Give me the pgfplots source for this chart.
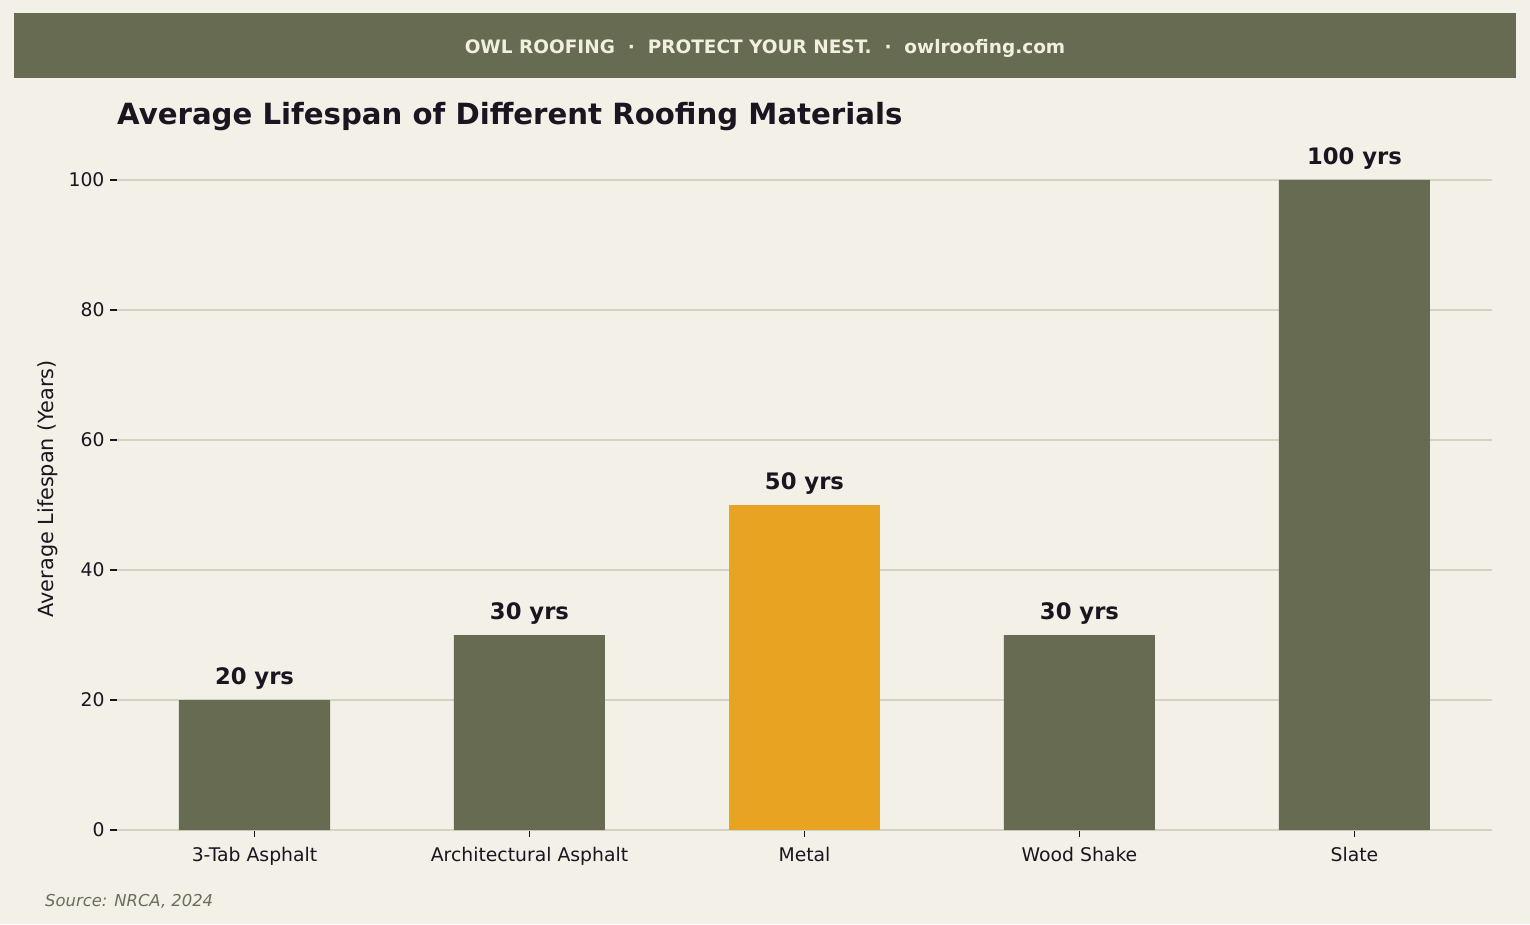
\documentclass[border=0pt]{standalone}
\usepackage{pgfplots}
\pgfplotsset{compat=1.18}
\usepackage{fontspec}
\setmainfont{DejaVu Sans}
\definecolor{bgcream}{HTML}{F2F0E7}
\definecolor{olive}{HTML}{666B52}
\definecolor{amber}{HTML}{E8A323}
\definecolor{ink}{HTML}{1A1520}
\definecolor{gridc}{HTML}{D5D2C3}
\definecolor{bannertext}{HTML}{F2EFE0}
\definecolor{srcgray}{HTML}{6B6E5A}
\begin{document}
\begin{tikzpicture}[x=1pt,y=1pt]
% page background and header banner
\fill[bgcream] (0,0) rectangle (1530,924);
\fill[olive] (14,846) rectangle (1516,911);
\node[text=bannertext,font=\fontsize{18.5}{22}\selectfont\bfseries] at (765,876)
  {OWL ROOFING \ · \ PROTECT YOUR NEST. \ · \ owlroofing.com};
% chart title
\node[anchor=base west,text=ink,font=\fontsize{29.2}{34}\selectfont\bfseries,inner sep=0pt]
  at (117,799) {Average Lifespan of Different Roofing Materials};
% source note
\node[anchor=base west,text=srcgray,font=\fontsize{16.4}{19}\selectfont\itshape,inner sep=0pt]
  at (45,18) {Source: NRCA, 2024};
\begin{axis}[
  at={(117pt,94pt)}, anchor=south west,
  scale only axis, width=1375pt, height=682.5pt,
  xmin=-0.5, xmax=4.5, ymin=0, ymax=105,
  axis x line=bottom, axis y line=left,
  x axis line style={draw=gridc,line width=1pt,-},
  y axis line style={draw=none},
  xtick={0,1,2,3,4},
  xticklabels={3-Tab Asphalt,Architectural Asphalt,Metal,Wood Shake,Slate},
  ytick={0,20,40,60,80,100},
  tick align=outside, major tick length=7pt,
  tick style={draw=ink,line width=1.4pt},
  ymajorgrids, grid style={draw=gridc,line width=1.6pt},
  tick label style={text=ink,font=\fontsize{18.8}{22}\selectfont},
  /pgf/number format/assume math mode=true,
  xticklabel style={yshift=-7pt},
  yticklabel style={xshift=-2pt},
  ylabel={Average Lifespan (Years)},
  ylabel style={text=ink,font=\fontsize{20.8}{24}\selectfont,yshift=4pt},
  clip=false,
  ybar, bar width=151pt, bar shift=0pt,
  nodes near coords={\pgfmathprintnumber{\pgfplotspointmeta} yrs},
  nodes near coords style={text=ink,font=\fontsize{22.7}{26}\selectfont\bfseries,anchor=south,yshift=7pt},
]
\addplot[fill=olive,draw=none] coordinates {(0,20) (1,30) (3,30) (4,100)};
\addplot[fill=amber,draw=none] coordinates {(2,50)};
\end{axis}
\end{tikzpicture}
\end{document}
